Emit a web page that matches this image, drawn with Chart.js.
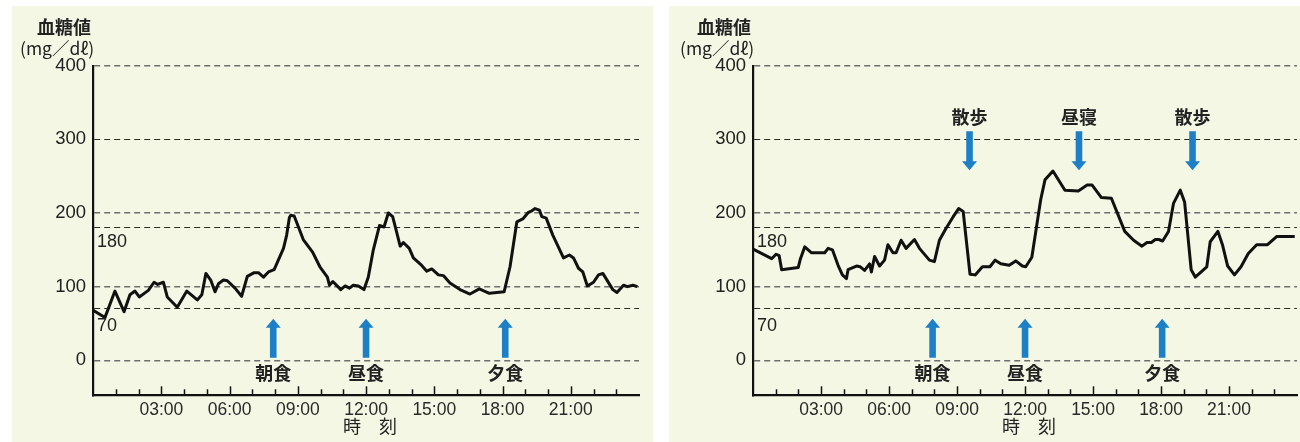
<!DOCTYPE html>
<html>
<head>
<meta charset="utf-8">
<title>血糖値の推移</title>
<script src="https://cdn.jsdelivr.net/npm/chart.js"></script>
<style>
  body { margin: 0; background: #ffffff; width: 1300px; height: 442px; position: relative; overflow: hidden; }
  .panel { position: absolute; top: 6px; height: 436px; background: #f4f7e4; }
  #leftPanel { left: 12px; width: 641px; }
  #rightPanel { left: 669px; width: 631px; }
</style>
</head>
<body>
<div class="panel" id="leftPanel"><canvas id="chartLeft" width="641" height="436"></canvas></div>
<div class="panel" id="rightPanel"><canvas id="chartRight" width="631" height="436"></canvas></div>
<script>
// hours since 0:00 and glucose (mg/dl)
const leftTimes = [0.00, 0.52, 0.96, 1.36, 1.62, 1.84, 2.03, 2.43, 2.68, 2.84, 3.09, 3.26, 3.70, 4.12, 4.58, 4.78, 4.96, 5.17, 5.36, 5.51, 5.73, 5.90, 6.24, 6.53, 6.78, 7.08, 7.27, 7.49, 7.71, 7.96, 8.37, 8.51, 8.63, 8.69, 8.84, 9.24, 9.65, 9.97, 10.30, 10.39, 10.54, 10.89, 11.08, 11.27, 11.44, 11.66, 11.91, 12.10, 12.32, 12.59, 12.79, 12.98, 13.17, 13.32, 13.50, 13.64, 13.90, 14.08, 14.41, 14.67, 14.89, 15.18, 15.40, 15.69, 16.13, 16.57, 16.98, 17.42, 17.75, 18.07, 18.33, 18.63, 18.89, 19.14, 19.29, 19.43, 19.62, 19.73, 19.92, 20.21, 20.68, 20.94, 21.12, 21.34, 21.53, 21.73, 22.00, 22.22, 22.41, 22.85, 23.03, 23.32, 23.49, 23.73, 23.93];
const leftValues = [68, 58, 94, 66, 89, 94, 86, 95, 106, 103, 106, 86, 72, 94, 82, 89, 118, 109, 93, 104, 109, 108, 98, 87, 114, 119, 119, 113, 120, 123, 152, 170, 194, 197, 196, 164, 147, 127, 113, 102, 107, 96, 101, 98, 102, 101, 96, 113, 150, 183, 181, 200, 195, 177, 155, 160, 152, 139, 130, 121, 124, 116, 115, 105, 96, 90, 97, 91, 92, 93, 127, 188, 192, 201, 203, 206, 204, 195, 193, 170, 139, 143, 139, 125, 120, 101, 106, 116, 118, 96, 92, 102, 100, 102, 100];

const rightTimes = [0.00, 0.82, 1.01, 1.15, 1.26, 1.99, 2.09, 2.28, 2.58, 3.16, 3.31, 3.50, 3.75, 3.94, 4.12, 4.19, 4.56, 4.73, 4.92, 5.14, 5.22, 5.36, 5.58, 5.80, 5.95, 6.17, 6.31, 6.53, 6.75, 7.12, 7.34, 7.78, 8.00, 8.22, 8.51, 8.83, 9.07, 9.27, 9.57, 9.80, 10.12, 10.45, 10.68, 10.93, 11.30, 11.59, 11.88, 12.03, 12.30, 12.54, 12.69, 12.88, 13.23, 13.76, 14.35, 14.74, 14.96, 15.37, 15.81, 16.40, 16.79, 17.16, 17.38, 17.57, 17.75, 17.90, 18.07, 18.33, 18.55, 18.85, 19.04, 19.33, 19.51, 20.02, 20.17, 20.51, 20.71, 20.94, 21.24, 21.53, 21.85, 22.22, 22.70, 23.10, 23.90];
const rightValues = [151, 138, 144, 142, 123, 126, 138, 154, 146, 146, 152, 150, 129, 116, 111, 123, 128, 127, 122, 131, 120, 141, 128, 136, 157, 146, 146, 163, 152, 164, 152, 136, 134, 163, 179, 195, 206, 202, 117, 116, 127, 127, 136, 131, 129, 135, 128, 127, 140, 188, 218, 245, 257, 231, 230, 238, 238, 221, 220, 175, 163, 155, 160, 160, 164, 164, 162, 175, 213, 231, 215, 123, 113, 127, 161, 175, 157, 128, 116, 127, 145, 157, 157, 168, 168];

const yTicks = [0, 70, 100, 180, 200, 300, 400];
const innerTicks = [180, 70];
const xLabelHours = [3, 6, 9, 12, 15, 18, 21];

const mealNames = ['朝食', '昼食', '夕食'];
const leftMealTimes = [7.92, 12.0, 18.12];
const rightMealTimes = [7.92, 12.0, 18.05];
const activityNames = ['散歩', '昼寝', '散歩'];
const activityTimes = [9.55, 14.38, 19.39];

const BLUE = '#1d80c6';
const DIGITS = '"Liberation Sans", Arial, sans-serif';
const JP = '"Noto Sans CJK JP", sans-serif';

function drawArrow(ctx, x, yTip, yTail) {
  const dir = yTail > yTip ? 1 : -1;
  const headH = 9, headW = 7.5, shaftW = 3.3;
  ctx.fillStyle = BLUE;
  ctx.beginPath();
  ctx.moveTo(x, yTip);
  ctx.lineTo(x + headW, yTip + dir * headH);
  ctx.lineTo(x + shaftW, yTip + dir * headH);
  ctx.lineTo(x + shaftW, yTail);
  ctx.lineTo(x - shaftW, yTail);
  ctx.lineTo(x - shaftW, yTip + dir * headH);
  ctx.lineTo(x - headW, yTip + dir * headH);
  ctx.closePath();
  ctx.fill();
}

function makeChart(id, axisLeft, rightPad, times, values, mealTimes, acts) {
  const decor = {
    id: 'decor',
    afterDraw(chart) {
      const ctx = chart.ctx;
      const xs = chart.scales.x, ys = chart.scales.y;
      const area = chart.chartArea;
      ctx.save();
      // hour ticks pointing up from the time axis
      ctx.strokeStyle = '#111';
      ctx.lineWidth = 1.5;
      for (let h = 1; h < 24; h++) {
        const px = Math.round(xs.getPixelForValue(h)) + 0.5;
        const len = h % 3 === 0 ? 9 : 6;
        ctx.beginPath();
        ctx.moveTo(px, area.bottom);
        ctx.lineTo(px, area.bottom - len);
        ctx.stroke();
      }
      // 180 / 70 labels inside the plot
      ctx.fillStyle = '#222';
      ctx.font = '18px ' + DIGITS;
      ctx.textAlign = 'left';
      ctx.textBaseline = 'middle';
      ctx.fillText('180', area.left + 4, ys.getPixelForValue(160.5));
      ctx.fillText('70', area.left + 4, ys.getPixelForValue(46.5));
      // axis title
      ctx.textAlign = 'center';
      ctx.font = 'bold 18px ' + JP;
      ctx.fillText('血糖値', area.left - 29, 21);
      ctx.font = '17.5px ' + JP;
      ctx.fillText('(mg／dℓ)', area.left - 36, 42);
      ctx.font = '18px ' + JP;
      ctx.fillText('時　刻', xs.getPixelForValue(12) + 4, 420);
      // meals
      ctx.font = 'bold 18px ' + JP;
      mealTimes.forEach((t, i) => {
        const px = xs.getPixelForValue(t);
        drawArrow(ctx, px, ys.getPixelForValue(56.5), ys.getPixelForValue(3.5));
        ctx.fillStyle = '#222';
        ctx.fillText(mealNames[i], px, ys.getPixelForValue(-17));
      });
      // activities
      if (acts) {
        activityTimes.forEach((t, i) => {
          const px = xs.getPixelForValue(t);
          drawArrow(ctx, px, ys.getPixelForValue(258), ys.getPixelForValue(311));
          ctx.fillStyle = '#222';
          ctx.fillText(activityNames[i], px, ys.getPixelForValue(330));
        });
      }
      ctx.restore();
    }
  };

  return new Chart(document.getElementById(id), {
    type: 'line',
    data: {
      datasets: [{
        data: times.map((t, i) => ({ x: t, y: values[i] })),
        borderColor: '#111',
        borderWidth: 3,
        pointRadius: 0,
        tension: 0,
        borderJoinStyle: 'round',
        fill: false
      }]
    },
    options: {
      responsive: false,
      animation: false,
      layout: { padding: { left: 0, top: 59.7, right: rightPad, bottom: 0 } },
      plugins: { legend: { display: false }, tooltip: { enabled: false } },
      scales: {
        x: {
          type: 'linear',
          min: 0,
          max: 24,
          afterBuildTicks: s => { s.ticks = [0].concat(xLabelHours, [24]).map(v => ({ value: v })); },
          afterFit: s => { s.height = 46.7; },
          ticks: {
            autoSkip: false,
            maxRotation: 0,
            padding: -4,
            color: '#2a2a2a',
            font: { family: DIGITS, size: 17.5 },
            callback: v => xLabelHours.includes(v) ? String(v).padStart(2, '0') + ':00' : ''
          },
          grid: { display: false },
          border: { display: true, color: '#111', width: 2.2 }
        },
        y: {
          min: -47.5,
          max: 400,
          afterBuildTicks: s => { s.ticks = yTicks.map(v => ({ value: v })); },
          afterFit: s => { s.width = axisLeft; },
          ticks: {
            autoSkip: false,
            padding: 7,
            color: '#222',
            font: { family: DIGITS, size: 18.5 },
            callback: v => innerTicks.includes(v) ? '' : String(v)
          },
          grid: {
            drawTicks: false,
            color: c => [300, 180, 70].includes(c.tick && c.tick.value) ? '#2b2b2b' : '#6e6e6e',
            lineWidth: c => [300, 180, 70].includes(c.tick && c.tick.value) ? 1 : 1.6
          },
          border: { display: true, color: '#111', width: 2.2, dash: [6, 4] }
        }
      }
    },
    plugins: [decor]
  });
}

makeChart('chartLeft', 81.1, 14, leftTimes, leftValues, leftMealTimes, false);
makeChart('chartRight', 84.1, 3, rightTimes, rightValues, rightMealTimes, true);
</script>
</body>
</html>
